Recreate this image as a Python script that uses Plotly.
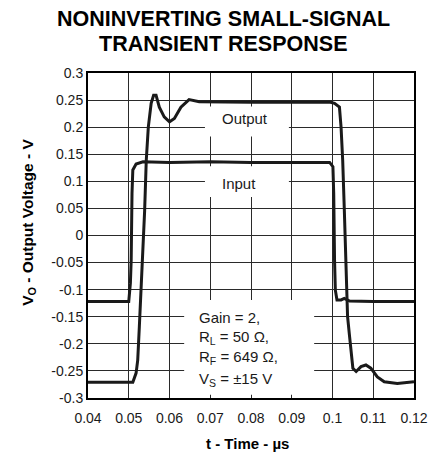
import plotly.graph_objects as go

# ---- data ----
t_input = [0.04, 0.0500, 0.0504, 0.0506, 0.0508, 0.0510, 0.0518, 0.0535, 0.060, 0.070,
           0.080, 0.090, 0.0993, 0.1001, 0.1003, 0.1005, 0.1007, 0.1011, 0.1021, 0.1029,
           0.1042, 0.110, 0.120]
v_input = [-0.122, -0.122, -0.088, -0.045, 0.078, 0.121, 0.132, 0.136, 0.135, 0.136,
           0.135, 0.135, 0.135, 0.127, 0.078, -0.045, -0.101, -0.119, -0.119, -0.116,
           -0.121, -0.122, -0.122]

t_output = [0.04, 0.0510, 0.0518, 0.0522, 0.0526, 0.0530, 0.0535, 0.0539, 0.0543, 0.0548,
            0.0555, 0.0561, 0.0567, 0.0575, 0.0587, 0.0600, 0.0612, 0.0628, 0.0648, 0.0673,
            0.080, 0.0995, 0.1005, 0.1017, 0.1021, 0.1025, 0.1029, 0.1033, 0.1037, 0.1042,
            0.1050, 0.1058, 0.1070, 0.1082, 0.1094, 0.1110, 0.1127, 0.1159, 0.120]
v_output = [-0.271, -0.271, -0.254, -0.230, -0.168, -0.101, -0.042, 0.046, 0.139, 0.200,
            0.244, 0.259, 0.259, 0.237, 0.219, 0.210, 0.216, 0.237, 0.251, 0.247,
            0.246, 0.246, 0.244, 0.237, 0.200, 0.139, 0.047, -0.045, -0.150, -0.187,
            -0.245, -0.251, -0.242, -0.239, -0.245, -0.261, -0.270, -0.273, -0.270]

x_ticks = [0.04, 0.05, 0.06, 0.07, 0.08, 0.09, 0.1, 0.11, 0.12]
x_tick_labels = ["0.04", "0.05", "0.06", "0.07", "0.08", "0.09", "0.1", "0.11", "0.12"]
y_ticks = [-0.3, -0.25, -0.2, -0.15, -0.1, -0.05, 0, 0.05, 0.1, 0.15, 0.2, 0.25, 0.3]
y_tick_labels = ["-0.3", "-0.25", "-0.2", "-0.15", "-0.1", "-0.05", "0", "0.05", "0.1",
                 "0.15", "0.2", "0.25", "0.3"]

title_lines = ["NONINVERTING SMALL-SIGNAL", "TRANSIENT RESPONSE"]
title_y = [1.166, 1.089]
x_title = "t - Time - \u00b5s"
y_title = "V<sub>O</sub> - Output Voltage - V"
cond_lines = ["Gain = 2,", "R<sub>L</sub> = 50 \u03a9,", "R<sub>F</sub> = 649 \u03a9,",
              "V<sub>S</sub> = \u00b115 V"]
cond_y = [-0.151, -0.188, -0.225, -0.265]

FONT = "Arial, Liberation Sans, sans-serif"
INK = "#1a1a1a"

fig = go.Figure()
fig.add_trace(go.Scatter(x=t_input, y=v_input, mode="lines",
                         line=dict(color=INK, width=3), showlegend=False))
fig.add_trace(go.Scatter(x=t_output, y=v_output, mode="lines",
                         line=dict(color=INK, width=3), showlegend=False))

# white label boxes that interrupt the grid
for x0, x1, y0, y1 in [(0.0687, 0.0893, 0.183, 0.238),
                       (0.0687, 0.0893, 0.071, 0.128),
                       (0.0636, 0.0955, -0.294, -0.119)]:
    fig.add_shape(type="rect", xref="x", yref="y", x0=x0, x1=x1, y0=y0, y1=y1,
                  fillcolor="white", line=dict(width=0), layer="above")

fig.add_annotation(x=0.0724, y=0.2164, xref="x", yref="y", text="Output",
                   showarrow=False, xanchor="left", yanchor="middle",
                   font=dict(family=FONT, size=15, color=INK))
fig.add_annotation(x=0.0724, y=0.0966, xref="x", yref="y", text="Input",
                   showarrow=False, xanchor="left", yanchor="middle",
                   font=dict(family=FONT, size=15, color=INK))
for txt, yy in zip(cond_lines, cond_y):
    fig.add_annotation(x=0.0667, y=yy, xref="x", yref="y", text=txt,
                       showarrow=False, xanchor="left", yanchor="middle",
                       font=dict(family=FONT, size=15, color=INK))

for txt, yy in zip(title_lines, title_y):
    fig.add_annotation(x=0.415, y=yy, xref="paper", yref="paper",
                       text="<b>" + txt + "</b>",
                       showarrow=False, xanchor="center", yanchor="middle",
                       font=dict(family=FONT, size=21.5, color="black"))
fig.add_annotation(x=0.489, y=-0.14, xref="paper", yref="paper",
                   text="<b>" + x_title + "</b>", showarrow=False,
                   xanchor="center", yanchor="middle",
                   font=dict(family=FONT, size=15, color="black"))
fig.add_annotation(x=-0.183, y=0.54, xref="paper", yref="paper",
                   text="<b>" + y_title + "</b>", showarrow=False, textangle=-90,
                   xanchor="center", yanchor="middle",
                   font=dict(family=FONT, size=15.5, color="black"))

fig.update_xaxes(range=[0.04, 0.12], tickvals=x_ticks, ticktext=x_tick_labels,
                 showgrid=True, gridcolor="#2a2a2a", gridwidth=1,
                 showline=True, linecolor="black", linewidth=2, mirror=True,
                 ticks="", zeroline=False, ticklabelstandoff=6,
                 tickfont=dict(family=FONT, size=14, color=INK))
fig.update_yaxes(range=[-0.3, 0.3], tickvals=y_ticks, ticktext=y_tick_labels,
                 showgrid=True, gridcolor="#2a2a2a", gridwidth=1,
                 showline=True, linecolor="black", linewidth=2, mirror=True,
                 ticks="", zeroline=False,
                 tickfont=dict(family=FONT, size=14, color=INK))

fig.update_layout(width=440, height=453, margin=dict(l=88, r=23, t=73, b=55),
                  plot_bgcolor="white", paper_bgcolor="white")

fig.write_html("out.html", config={"displayModeBar": False},
               post_script="document.body.style.margin='0';"
                           "document.body.style.overflow='hidden';")
